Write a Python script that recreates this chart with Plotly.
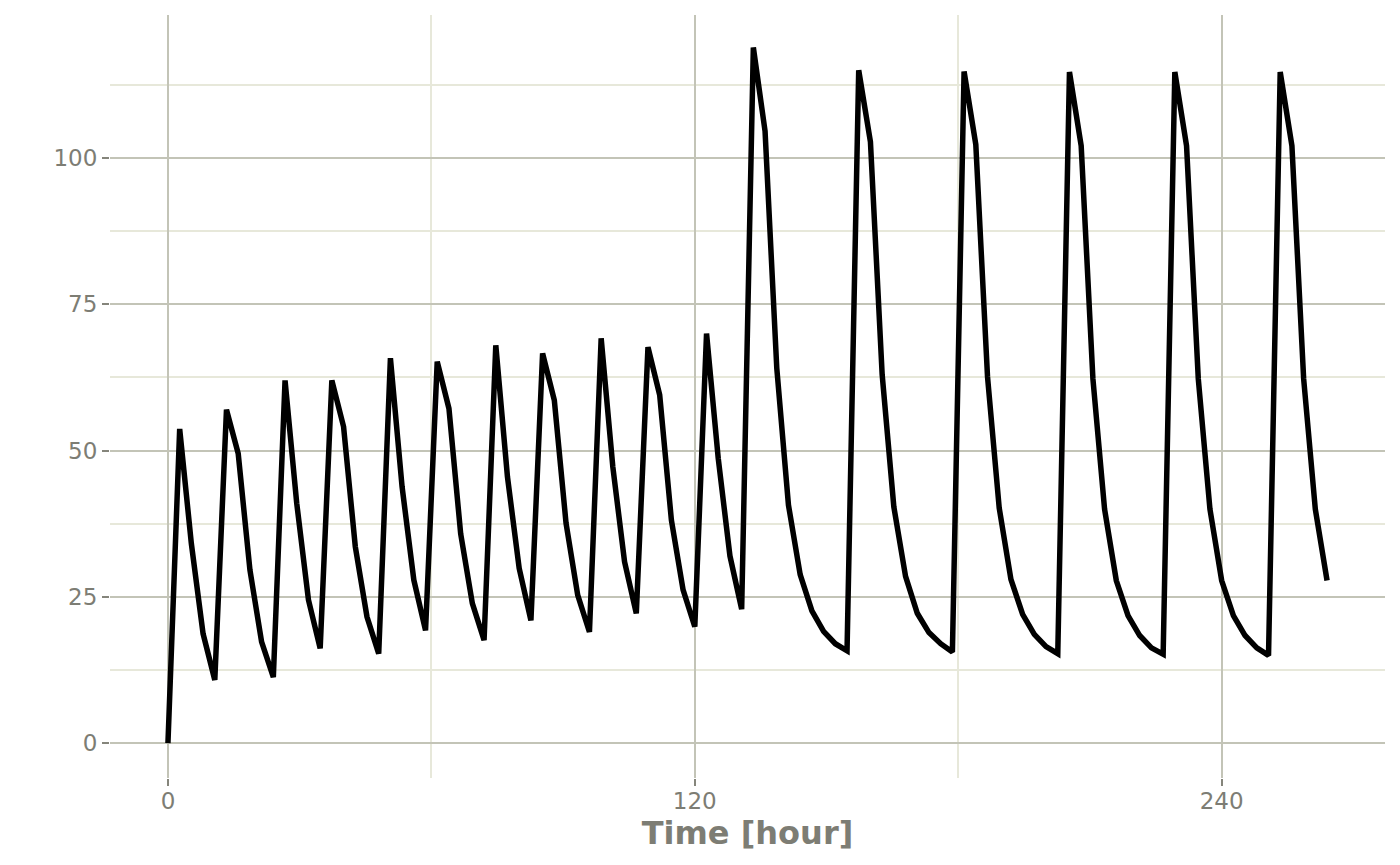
"""
Concentration-time profile: twice-daily dosing for five days,
then a larger once-daily dose.
"""

import plotly.graph_objects as go

# sampling times [hour]
TIME_H = [
    0, 2.67, 5.33, 8, 10.67, 13.33, 16, 18.67, 21.33, 24,
    26.67, 29.33, 32, 34.67, 37.33, 40, 42.67, 45.33, 48, 50.67,
    53.33, 56, 58.67, 61.33, 64, 66.67, 69.33, 72, 74.67, 77.33,
    80, 82.67, 85.33, 88, 90.67, 93.33, 96, 98.67, 101.33, 104,
    106.67, 109.33, 112, 114.67, 117.33, 120, 122.67, 125.33, 128, 130.67,
    133.33, 136, 138.67, 141.33, 144, 146.67, 149.33, 152, 154.67, 157.33,
    160, 162.67, 165.33, 168, 170.67, 173.33, 176, 178.67, 181.33, 184,
    186.67, 189.33, 192, 194.67, 197.33, 200, 202.67, 205.33, 208, 210.67,
    213.33, 216, 218.67, 221.33, 224, 226.67, 229.33, 232, 234.67, 237.33,
    240, 242.67, 245.33, 248, 250.67, 253.33, 256, 258.67, 261.33, 264,
]

# concentration at each sampling time
CONC = [
    0, 53.7, 34.1, 18.7, 10.8, 57.0, 49.5, 29.6, 17.3, 11.3,
    62.0, 41.0, 24.5, 16.2, 62.0, 54.1, 33.6, 21.6, 15.3, 65.8,
    43.8, 27.9, 19.3, 65.2, 57.2, 35.8, 23.9, 17.6, 68.0, 45.5,
    29.9, 21.0, 66.6, 58.6, 37.6, 25.3, 19.0, 69.2, 47.2, 31.0,
    22.2, 67.7, 59.5, 38.1, 26.2, 19.9, 70.0, 48.7, 32.0, 22.9,
    118.9, 104.6, 64.1, 40.7, 28.8, 22.6, 19.1, 17.0, 15.8, 115.0,
    102.8, 63.0, 40.4, 28.5, 22.2, 18.9, 17.0, 15.6, 114.8, 102.3,
    62.6, 40.2, 28.0, 22.0, 18.6, 16.5, 15.3, 114.7, 102.1, 62.3,
    40.0, 27.8, 21.8, 18.4, 16.3, 15.2, 114.7, 102.1, 62.3, 40.0,
    27.8, 21.8, 18.4, 16.3, 15.0, 114.7, 102.1, 62.3, 40.0, 27.8,
]

X_TICKS = [0, 120, 240]
Y_TICKS = [0, 25, 50, 75, 100]

MAJOR_GRID = '#c3c4b7'
MINOR_GRID = '#e7e8da'
TEXT_GREY = '#7d7d74'
TICK_GREY = '#85857b'

fig = go.Figure()

fig.add_trace(go.Scatter(
    x=TIME_H,
    y=CONC,
    mode='lines',
    line=dict(color='black', width=5.5),
    showlegend=False,
))

axis_common = dict(
    showline=False,
    zeroline=False,
    ticks='outside',
    ticklen=7,
    tickwidth=2,
    tickcolor=TICK_GREY,
    gridcolor=MAJOR_GRID,
    gridwidth=2,
    tickfont=dict(family='DejaVu Sans', size=23, color=TEXT_GREY),
)

# the page body adds 8px, so margins are shifted to keep the panel in place
fig.update_layout(
    width=1400,
    height=865,
    margin=dict(l=102, r=23, t=7, b=95),
    paper_bgcolor='white',
    plot_bgcolor='white',
    font=dict(family='DejaVu Sans', color=TEXT_GREY),
    xaxis=dict(
        **axis_common,
        range=[-13.2, 277.2],
        tickvals=X_TICKS,
        ticktext=[str(v) for v in X_TICKS],
        ticklabelstandoff=-5,
        minor=dict(tick0=0, dtick=60, showgrid=True, gridcolor=MINOR_GRID,
                   gridwidth=2, ticks=''),
        title=dict(text='<b>Time [hour]</b>', standoff=7,
                   font=dict(family='DejaVu Sans', size=32, color=TEXT_GREY)),
    ),
    yaxis=dict(
        **axis_common,
        range=[-5.95, 124.45],
        tickvals=Y_TICKS,
        ticktext=[str(v) for v in Y_TICKS],
        minor=dict(tick0=0, dtick=12.5, showgrid=True, gridcolor=MINOR_GRID,
                   gridwidth=2, ticks=''),
    ),
)

fig.write_html("out.html")
